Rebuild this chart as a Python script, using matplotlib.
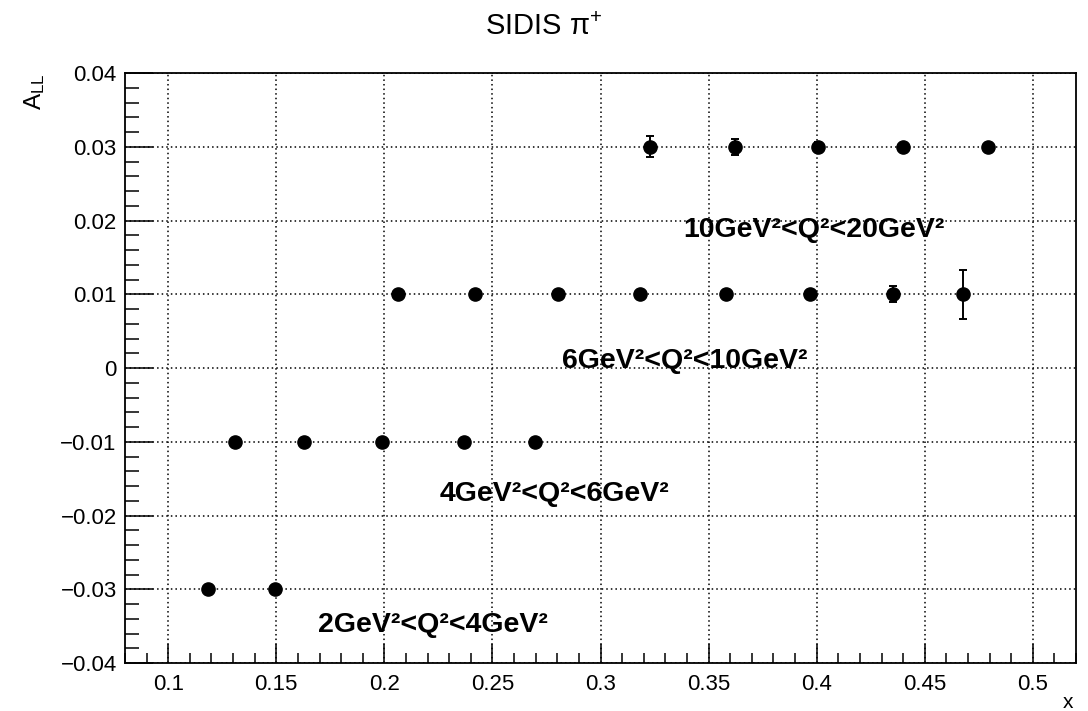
import matplotlib
matplotlib.use("Agg")
import matplotlib.pyplot as plt
from matplotlib.ticker import MultipleLocator, FuncFormatter

plt.rcParams['font.family'] = ['Liberation Sans', 'DejaVu Sans']
plt.rcParams['mathtext.fontset'] = 'custom'
plt.rcParams['mathtext.rm'] = 'Liberation Sans'
plt.rcParams['mathtext.it'] = 'Liberation Sans:italic'
plt.rcParams['mathtext.bf'] = 'Liberation Sans:bold'

# Q^2 bins: x values, A_LL values, errors
x_q1 = [0.1186, 0.1493]
a_q1 = [-0.03, -0.03]
e_q1 = [0.0003, 0.0003]

x_q2 = [0.1308, 0.1629, 0.1991, 0.2368, 0.2696]
a_q2 = [-0.01, -0.01, -0.01, -0.01, -0.01]
e_q2 = [0.0003, 0.0003, 0.0003, 0.0004, 0.0004]

x_q3 = [0.2065, 0.2419, 0.2803, 0.3184, 0.3581, 0.3970, 0.4355, 0.4676]
a_q3 = [0.01, 0.01, 0.01, 0.01, 0.01, 0.01, 0.01, 0.01]
e_q3 = [0.0003, 0.0003, 0.0003, 0.0004, 0.0004, 0.0005, 0.0011, 0.0033]

x_q4 = [0.3230, 0.3622, 0.4007, 0.4400, 0.4792]
a_q4 = [0.03, 0.03, 0.03, 0.03, 0.03]
e_q4 = [0.0014, 0.0011, 0.0006, 0.0004, 0.0004]

bin_labels = ['2GeV²<Q²<4GeV²', '4GeV²<Q²<6GeV²', '6GeV²<Q²<10GeV²', '10GeV²<Q²<20GeV²']
label_x = [0.1695, 0.2257, 0.2822, 0.3383]
label_y = [-0.0358, -0.0180, 0.0, 0.0178]

fig = plt.figure(figsize=(10.88, 7.11), dpi=100)
ax = fig.add_axes([0.1149, 0.0675, 0.8741, 0.8298])

for xs, ys, es in [(x_q1, a_q1, e_q1), (x_q2, a_q2, e_q2), (x_q3, a_q3, e_q3), (x_q4, a_q4, e_q4)]:
    ax.errorbar(xs, ys, yerr=es, fmt='o', color='black', ms=9.5, elinewidth=1.4,
                capsize=3, capthick=1.4, zorder=3)

for lab, lx, ly in zip(bin_labels, label_x, label_y):
    ax.text(lx, ly, lab, fontsize=20.5, fontweight='bold', ha='left', va='baseline', zorder=4)

ax.set_xlim(0.08, 0.52)
ax.set_ylim(-0.04, 0.04)

ax.xaxis.set_major_locator(MultipleLocator(0.05))
ax.xaxis.set_minor_locator(MultipleLocator(0.01))
ax.yaxis.set_major_locator(MultipleLocator(0.01))
ax.yaxis.set_minor_locator(MultipleLocator(0.002))

def fmt(v, pos):
    if abs(v) < 1e-9:
        return '0'
    return ('%g' % round(v, 4)).replace('-', '\u2212')

ax.xaxis.set_major_formatter(FuncFormatter(fmt))
ax.yaxis.set_major_formatter(FuncFormatter(fmt))

ax.tick_params(axis='x', which='major', direction='in', length=14, width=1.1, labelsize=16, pad=8)
ax.tick_params(axis='x', which='minor', direction='in', length=7, width=1.1)
ax.tick_params(axis='y', which='major', direction='in', length=20, width=1.1, labelsize=16, pad=6)
ax.tick_params(axis='y', which='minor', direction='in', length=10, width=1.1)
ax.tick_params(top=False, right=False, which='both')

ax.grid(True, which='major', color='black', linestyle=(0, (1, 2)), linewidth=1.1)
ax.set_axisbelow(True)
for s in ax.spines.values():
    s.set_linewidth(1.3)

fig.text(0.5, 0.962, r'SIDIS $\mathrm{\pi}^{+}$', fontsize=21, ha='center', va='center')
fig.text(0.032, 0.897, r'A$_{\mathrm{LL}}$', fontsize=17.5, rotation=90, ha='center', va='top')
fig.text(0.982, -0.002, 'x', fontsize=15, ha='center', va='bottom')

fig.savefig('out.png', dpi=100)
